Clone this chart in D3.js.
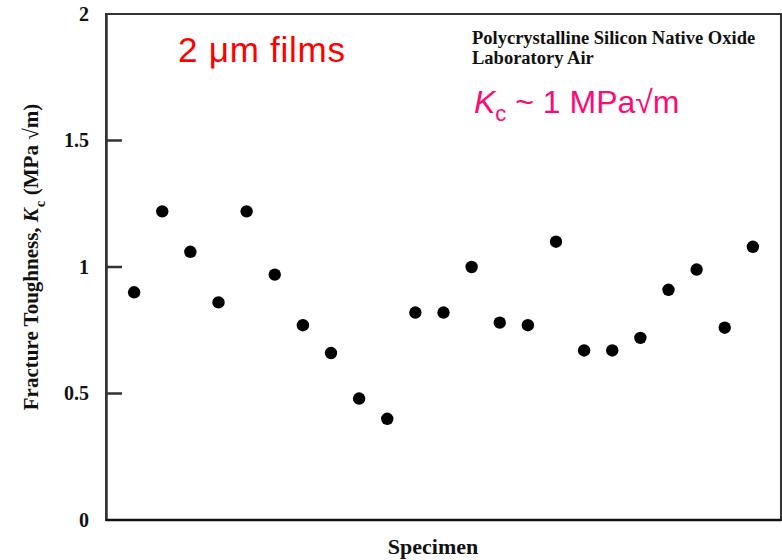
<!DOCTYPE html>
<html>
<head>
<meta charset="utf-8">
<script src="https://cdn.jsdelivr.net/npm/d3@7"></script>
<style>
  body { margin: 0; background: #fff; }
  .serif { font-family: "Liberation Serif", "Times New Roman", serif; font-weight: bold; }
  .sans { font-family: "Liberation Sans", Arial, sans-serif; }
</style>
</head>
<body>
<div id="chart"></div>
<script>
// Chart size
var svgWidth = 782;
var svgHeight = 560;

// data
var specimens = d3.range(1, 24);
var toughness = [0.90, 1.22, 1.06, 0.86, 1.22, 0.97, 0.77, 0.66, 0.48, 0.40,
  0.82, 0.82, 1.00, 0.78, 0.77, 1.10, 0.67, 0.67, 0.72, 0.91, 0.99, 0.76, 1.08];
var yTicks = [0, 0.5, 1, 1.5, 2];
var yTickLabels = ["0", "0.5", "1", "1.5", "2"];

var margin = { top: 14, right: 1, bottom: 40, left: 106 };
var width = svgWidth - margin.left - margin.right;
var height = svgHeight - margin.top - margin.bottom;

var svg = d3.select("#chart")
  .append("svg")
  .attr("width", svgWidth)
  .attr("height", svgHeight);

var chartGroup = svg.append("g")
  .attr("transform", `translate(${margin.left}, ${margin.top})`);

var xScale = d3.scaleLinear().domain([0, 24]).range([0, width]);
var yScale = d3.scaleLinear().domain([0, 2]).range([height, 0]);

// frame
chartGroup.append("rect")
  .attr("x", 0).attr("y", 0)
  .attr("width", width).attr("height", height)
  .attr("fill", "none")
  .attr("stroke", "#333")
  .attr("stroke-width", 2);

// y axis, labels only
var leftAxis = d3.axisLeft(yScale)
  .tickValues(yTicks)
  .tickFormat((d, i) => yTickLabels[i])
  .tickSize(0)
  .tickPadding(17);

var yAxis = chartGroup.append("g").call(leftAxis);
yAxis.select(".domain").attr("stroke", "#333").attr("stroke-width", 2.5);
yAxis.selectAll(".tick text")
  .attr("class", "serif")
  .attr("font-size", 20)
  .attr("fill", "#111");

// inward tick marks
chartGroup.selectAll("rect.intick")
  .data(yTicks.slice(1, 4))
  .enter()
  .append("rect")
  .attr("class", "intick")
  .attr("x", 0)
  .attr("y", d => yScale(d) - 1.25)
  .attr("width", 16)
  .attr("height", 2.5)
  .attr("fill", "#333");

// x axis line (no ticks)
chartGroup.append("line")
  .attr("x1", 0).attr("x2", width)
  .attr("y1", height).attr("y2", height)
  .attr("stroke", "#111")
  .attr("stroke-width", 2.5);

// points
chartGroup.selectAll("circle.pt")
  .data(toughness)
  .enter()
  .append("circle")
  .attr("class", "pt")
  .attr("cx", (d, i) => xScale(specimens[i]))
  .attr("cy", d => yScale(d))
  .attr("r", 6.2)
  .attr("fill", "#000");

// axis titles
svg.append("text")
  .attr("class", "serif")
  .attr("x", 433)
  .attr("y", 554)
  .attr("text-anchor", "middle")
  .attr("font-size", 22)
  .attr("fill", "#111")
  .text("Specimen");

var yTitle = svg.append("text")
  .attr("class", "serif")
  .attr("transform", "translate(38, 257) rotate(-90)")
  .attr("text-anchor", "middle")
  .attr("font-size", 21)
  .attr("fill", "#111");
yTitle.append("tspan").text("Fracture Toughness, ");
yTitle.append("tspan").attr("font-style", "italic").text("K");
yTitle.append("tspan").attr("font-size", 15).attr("dy", 7).attr("dx", 1).text("c");
yTitle.append("tspan").attr("dy", -7).text(" (MPa \u221Am)");

// annotations
svg.append("text")
  .attr("class", "sans")
  .attr("x", 178)
  .attr("y", 62)
  .attr("font-size", 35)
  .attr("fill", "#ff0000")
  .text("2 \u03BCm films")
  .attr("textLength", 167);

svg.append("text")
  .attr("class", "serif")
  .attr("x", 472)
  .attr("y", 44)
  .attr("font-size", 18.5)
  .attr("fill", "#111")
  .text("Polycrystalline Silicon Native Oxide");

svg.append("text")
  .attr("class", "serif")
  .attr("x", 472)
  .attr("y", 64)
  .attr("font-size", 18.5)
  .attr("fill", "#111")
  .text("Laboratory Air");

var kc = svg.append("text")
  .attr("class", "sans")
  .attr("x", 474)
  .attr("y", 113)
  .attr("font-size", 32)
  .attr("fill", "#ff0a73");
kc.append("tspan").attr("font-style", "italic").text("K");
kc.append("tspan").attr("font-size", 22).attr("dy", 8).text("c");
kc.append("tspan").attr("dy", -8).text(" ~ 1 MPa\u221Am");
</script>
</body>
</html>
